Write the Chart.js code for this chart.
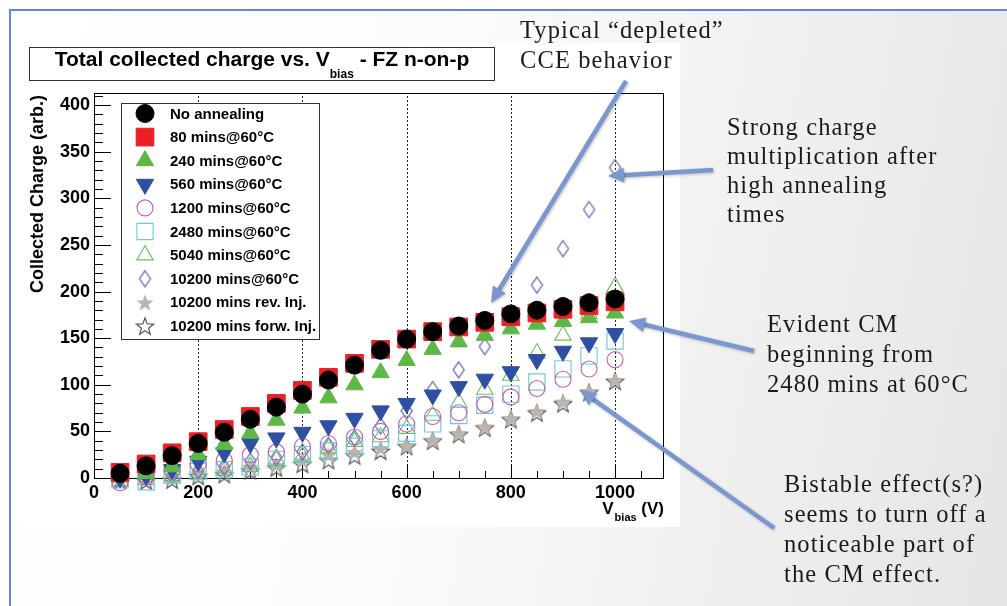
<!DOCTYPE html>
<html>
<head>
<meta charset="utf-8">
<title>Total collected charge vs. Vbias - FZ n-on-p</title>
<script src="https://cdn.jsdelivr.net/npm/chart.js@4.4.0/dist/chart.umd.min.js"></script>
<style>
  html, body { margin: 0; padding: 0; }
  body { width: 1007px; height: 606px; position: relative; overflow: hidden; background: #fff; }
  #slide {
    position: absolute; left: 9px; top: 9px; right: 0; bottom: 0;
    border-top: 2px solid #5b8bd3; border-left: 2px solid #5b8bd3;
    background: linear-gradient(100deg, #ffffff 0%, #fcfcfc 40%, #e5e5e5 100%);
  }
  #plotBg { position: absolute; left: 22px; top: 43px; width: 658px; height: 484px; background: #fff; }
  #chart { position: absolute; left: 0; top: 0; }
  .note {
    position: absolute; font-family: "Liberation Serif", "Times New Roman", serif;
    font-size: 24.5px; line-height: 30px; letter-spacing: 1.1px; color: #1b1b1b; white-space: nowrap;
  }
</style>
</head>
<body>
<div id="slide"></div>
<div id="plotBg"></div>
<canvas id="chart" width="1007" height="606"></canvas>

<div class="note" style="left:520px; top:15px;">Typical “depleted”<br>CCE behavior</div>
<div class="note" style="left:727px; top:112px; line-height:29px;">Strong charge<br>multiplication after<br>high annealing<br>times</div>
<div class="note" style="left:767px; top:309px;">Evident CM<br>beginning from<br>2480 mins at 60°C</div>
<div class="note" style="left:784px; top:469px;">Bistable effect(s?)<br>seems to turn off a<br>noticeable part of<br>the CM effect.</div>

<script>
// bias voltages (V)
const voltages = [50, 100, 150, 200, 250, 300, 350, 400, 450, 500, 550, 600, 650, 700, 750, 800, 850, 900, 950, 1000];

// collected charge (arb.) per annealing step
const noAnnealing = [5, 13, 24, 37, 49, 63, 76, 90, 105, 121, 137, 149, 157, 163, 169, 176, 180, 184, 188, 192];
const mins80 = [6, 15, 27, 39, 52, 66, 80, 94, 108, 123, 138, 149, 157, 162, 167, 173, 177, 181, 185, 189];
const mins240 = [2, 5, 12, 25, 36, 48, 62, 75, 86, 100, 113, 126, 138, 146, 153, 160, 165, 168, 172, 177];
const mins560 = [0, 3, 9, 18, 27, 37, 43, 49, 56, 64, 72, 80, 89, 98, 106, 114, 127, 136, 145, 155];
const mins1200 = [-5, 1, 9, 15, 19, 25, 28, 34, 37, 44, 50, 58, 66, 70, 79, 87, 96, 106, 117, 127];
const mins2480 = [-2, -4, 3, 7, 9, 12, 20, 25, 29, 34, 42, 48, 58, 67, 78, 90, 103, 117, 131, 147];
const mins5040 = [-3, -2, 1, 4, 8, 12, 19, 23, 32, 39, 44, 53, 67, 81, 95, 110, 134, 153, 176, 205];
const mins10200 = [0, 1, 3, 8, 12, 18, 22, 28, 35, 43, 56, 72, 95, 116, 141, 172, 207, 246, 288, 333];
const revInjection = [0, 0, 2, 5, 7, 12, 14, 19, 25, 28, 32, 35, 41, 48, 55, 64, 72, 82, 93, 105];
const forwInjection = [-2, -3, -2, 2, 4, 8, 11, 15, 19, 24, 29, 34, 40, 47, 54, 63, 70, 80, 92, 104];

const seriesLabels = ['No annealing', '80 mins@60°C', '240 mins@60°C', '560 mins@60°C', '1200 mins@60°C',
  '2480 mins@60°C', '5040 mins@60°C', '10200 mins@60°C', '10200 mins rev. Inj.', '10200 mins forw. Inj.'];

// axis ticks
const xTicks = [0, 200, 400, 600, 800, 1000];
const yTicks = [0, 50, 100, 150, 200, 250, 300, 350, 400];

const FONT = '"Liberation Sans", Arial, Helvetica, sans-serif';

// five point star marker (ROOT style 29/30)
function starMarker(size, fill, stroke) {
  const c = document.createElement('canvas');
  c.width = c.height = size + 4;
  const g = c.getContext('2d');
  const cx = c.width / 2, cy = c.height / 2 + 1;
  const R = size / 2, r = R * 0.42;
  g.beginPath();
  for (let k = 0; k < 10; k++) {
    const a = -Math.PI / 2 + k * Math.PI / 5;
    const rr = k % 2 ? r : R;
    g.lineTo(cx + rr * Math.cos(a), cy + rr * Math.sin(a));
  }
  g.closePath();
  if (fill) { g.fillStyle = fill; g.fill(); }
  if (stroke) { g.strokeStyle = stroke; g.lineWidth = 1.2; g.stroke(); }
  return c;
}

// narrow open diamond (ROOT style 27)
function diamondMarker(w, h, stroke) {
  const c = document.createElement('canvas');
  c.width = w + 4; c.height = h + 4;
  const g = c.getContext('2d');
  const cx = c.width / 2, cy = c.height / 2;
  g.beginPath();
  g.moveTo(cx, cy - h / 2);
  g.lineTo(cx + w / 2, cy);
  g.lineTo(cx, cy + h / 2);
  g.lineTo(cx - w / 2, cy);
  g.closePath();
  g.strokeStyle = stroke; g.lineWidth = 1.3; g.stroke();
  return c;
}

const markers = [
  { style: 'circle', radius: 9, fill: '#000000', stroke: '#000000' },
  { style: 'rect', radius: 12.5, fill: '#ec1f26', stroke: '#ec1f26' },
  { style: 'triangle', radius: 10, fill: '#5eb847', stroke: '#5eb847' },
  { style: 'triangle', radius: 10, rotation: 180, fill: '#2f4fa2', stroke: '#2f4fa2' },
  { style: 'circle', radius: 8, fill: 'rgba(0,0,0,0)', stroke: '#c45fb5' },
  { style: 'rect', radius: 11.5, fill: 'rgba(0,0,0,0)', stroke: '#70c6e0' },
  { style: 'triangle', radius: 9.5, fill: 'rgba(0,0,0,0)', stroke: '#6dbf5f' },
  { style: diamondMarker(11, 16, '#6467b8'), radius: 8, fill: 'rgba(0,0,0,0)', stroke: '#6467b8' },
  { style: starMarker(18, '#bcb4ab', null), radius: 8, fill: '#bcb4ab', stroke: '#bcb4ab' },
  { style: starMarker(18, null, '#555555'), radius: 8, fill: 'rgba(0,0,0,0)', stroke: '#555555' }
];

const seriesValues = [noAnnealing, mins80, mins240, mins560, mins1200, mins2480, mins5040, mins10200, revInjection, forwInjection];

const datasets = seriesValues.map((vals, i) => {
  const m = markers[i];
  return {
    label: seriesLabels[i],
    data: voltages.map((v, j) => ({ x: v, y: vals[j] })),
    pointStyle: m.style,
    pointRadius: m.radius,
    pointRotation: m.rotation || 0,
    pointBackgroundColor: m.fill,
    pointBorderColor: m.stroke,
    pointBorderWidth: m.fill === 'rgba(0,0,0,0)' ? 1.1 : 1,
    showLine: false,
    clip: false
  };
});

// frame, dashed grid and inward ROOT style ticks
const frameAndTicks = {
  id: 'frameAndTicks',
  beforeDatasetsDraw(chart) {
    const { ctx, chartArea: a, scales: { x, y } } = chart;
    ctx.save();
    ctx.strokeStyle = '#222';
    ctx.lineWidth = 1;
    ctx.setLineDash([2, 2]);
    xTicks.forEach(v => {
      if (v === 0) return;
      const px = Math.round(x.getPixelForValue(v)) + 0.5;
      ctx.beginPath(); ctx.moveTo(px, a.bottom); ctx.lineTo(px, a.top); ctx.stroke();
    });
    ctx.setLineDash([]);
    ctx.strokeStyle = '#000';
    ctx.strokeRect(Math.round(a.left) + 0.5, Math.round(a.top) + 0.5, Math.round(a.right - a.left), Math.round(a.bottom - a.top));
    // y ticks: major every 50, minor every 10
    for (let v = 0; v <= y.max; v += 10) {
      const py = Math.round(y.getPixelForValue(v)) + 0.5;
      const len = v % 50 === 0 ? 17 : 9;
      ctx.beginPath(); ctx.moveTo(a.left, py); ctx.lineTo(a.left + len, py); ctx.stroke();
    }
    // x ticks: major every 200, minor every 50
    for (let v = 0; v <= x.max; v += 50) {
      const px = Math.round(x.getPixelForValue(v)) + 0.5;
      const len = v % 200 === 0 ? 13 : 7;
      ctx.beginPath(); ctx.moveTo(px, a.bottom); ctx.lineTo(px, a.bottom - len); ctx.stroke();
    }
    ctx.restore();
  },
  afterDatasetsDraw(chart) {
    const { ctx, chartArea: a } = chart;
    ctx.save();

    // title box
    ctx.fillStyle = '#fff';
    ctx.fillRect(29.5, 47.5, 465, 33);
    ctx.strokeStyle = '#333';
    ctx.lineWidth = 1;
    ctx.strokeRect(29.5, 47.5, 465, 33);
    ctx.fillStyle = '#000';
    ctx.textBaseline = 'alphabetic';
    const t1 = 'Total collected charge vs. V', t2 = 'bias', t3 = ' - FZ n-on-p';
    ctx.font = 'bold 21px ' + FONT;
    const w1 = ctx.measureText(t1).width, w3 = ctx.measureText(t3).width;
    ctx.font = 'bold 12px ' + FONT;
    const w2 = ctx.measureText(t2).width;
    let tx = 262 - (w1 + w2 + w3) / 2;
    ctx.font = 'bold 21px ' + FONT;
    ctx.fillText(t1, tx, 66);
    ctx.font = 'bold 12px ' + FONT;
    ctx.fillText(t2, tx + w1, 78);
    ctx.font = 'bold 21px ' + FONT;
    ctx.fillText(t3, tx + w1 + w2, 66);

    // y axis title
    ctx.save();
    ctx.translate(43, 95);
    ctx.rotate(-Math.PI / 2);
    ctx.textAlign = 'right';
    ctx.font = 'bold 18px ' + FONT;
    ctx.fillText('Collected Charge (arb.)', 0, 0);
    ctx.restore();

    // x axis title, right aligned to the frame
    ctx.font = 'bold 17px ' + FONT;
    const wv = ctx.measureText('V').width, wu = ctx.measureText(' (V)').width;
    ctx.font = 'bold 11px ' + FONT;
    const wb = ctx.measureText('bias').width;
    let xx = a.right - (wv + wb + wu);
    ctx.font = 'bold 17px ' + FONT;
    ctx.fillText('V', xx, 514);
    ctx.font = 'bold 11px ' + FONT;
    ctx.fillText('bias', xx + wv + 1, 521);
    ctx.font = 'bold 17px ' + FONT;
    ctx.fillText(' (V)', xx + wv + wb + 1, 514);

    // legend
    ctx.fillStyle = '#fff';
    ctx.fillRect(121.5, 103.5, 198, 236);
    ctx.strokeStyle = '#333';
    ctx.strokeRect(121.5, 103.5, 198, 236);
    chart.data.datasets.forEach((ds, i) => {
      const ly = 113.5 + i * 23.6;
      ctx.save();
      ctx.fillStyle = ds.pointBackgroundColor;
      ctx.strokeStyle = ds.pointBorderColor;
      ctx.lineWidth = ds.pointBorderWidth;
      Chart.helpers.drawPoint(ctx, {
        pointStyle: ds.pointStyle, radius: ds.pointRadius,
        rotation: ds.pointRotation, borderWidth: ds.pointBorderWidth
      }, 145, ly);
      ctx.restore();
      ctx.fillStyle = '#000';
      ctx.font = 'bold 15px ' + FONT;
      ctx.textBaseline = 'middle';
      ctx.fillText(ds.label, 170, ly + 1);
    });
    ctx.restore();
  },
  afterDraw(chart) {
    const ctx = chart.ctx;
    const arrows = [
      [626, 81, 491, 303],
      [713, 170, 608, 176],
      [754, 351, 629, 321],
      [774, 528, 580, 390]
    ];
    ctx.save();
    ctx.strokeStyle = '#7b97d0';
    ctx.fillStyle = '#7b97d0';
    ctx.shadowColor = 'rgba(0,0,0,0.25)';
    ctx.shadowBlur = 3;
    ctx.shadowOffsetX = 1;
    ctx.shadowOffsetY = 1;
    arrows.forEach(([x1, y1, x2, y2]) => {
      const ang = Math.atan2(y2 - y1, x2 - x1);
      const hl = 16, hw = 7.5;
      const bx = x2 - Math.cos(ang) * hl, by = y2 - Math.sin(ang) * hl;
      ctx.lineWidth = 4.5;
      ctx.beginPath(); ctx.moveTo(x1, y1); ctx.lineTo(bx + Math.cos(ang) * 2, by + Math.sin(ang) * 2); ctx.stroke();
      ctx.beginPath();
      ctx.moveTo(x2, y2);
      ctx.lineTo(bx - Math.sin(ang) * hw, by + Math.cos(ang) * hw);
      ctx.lineTo(bx + Math.sin(ang) * hw, by - Math.cos(ang) * hw);
      ctx.closePath();
      ctx.fill();
    });
    ctx.restore();
  }
};

new Chart(document.getElementById('chart'), {
  type: 'scatter',
  data: { datasets: datasets },
  options: {
    responsive: false,
    animation: false,
    events: [],
    layout: { autoPadding: false, padding: { left: 0, top: 93, right: 1007 - 663, bottom: 606 - 478 - 40 } },
    plugins: { legend: { display: false }, tooltip: { enabled: false } },
    scales: {
      x: {
        type: 'linear', min: 0, max: 1092,
        afterFit: s => { s.height = 40; },
        afterBuildTicks: s => { s.ticks = xTicks.map(v => ({ value: v })); },
        grid: { display: false, drawTicks: false },
        border: { display: false },
        ticks: { color: '#000', padding: 4, maxRotation: 0, callback: v => String(v), font: { family: FONT, size: 18, weight: 'bold' } }
      },
      y: {
        type: 'linear', min: 0, max: 413,
        afterFit: s => { s.width = 94; },
        afterBuildTicks: s => { s.ticks = yTicks.map(v => ({ value: v })); },
        grid: { display: false, drawTicks: false },
        border: { display: false },
        ticks: { color: '#000', padding: 4, callback: v => String(v), font: { family: FONT, size: 18, weight: 'bold' } }
      }
    }
  },
  plugins: [frameAndTicks]
});
</script>
</body>
</html>
